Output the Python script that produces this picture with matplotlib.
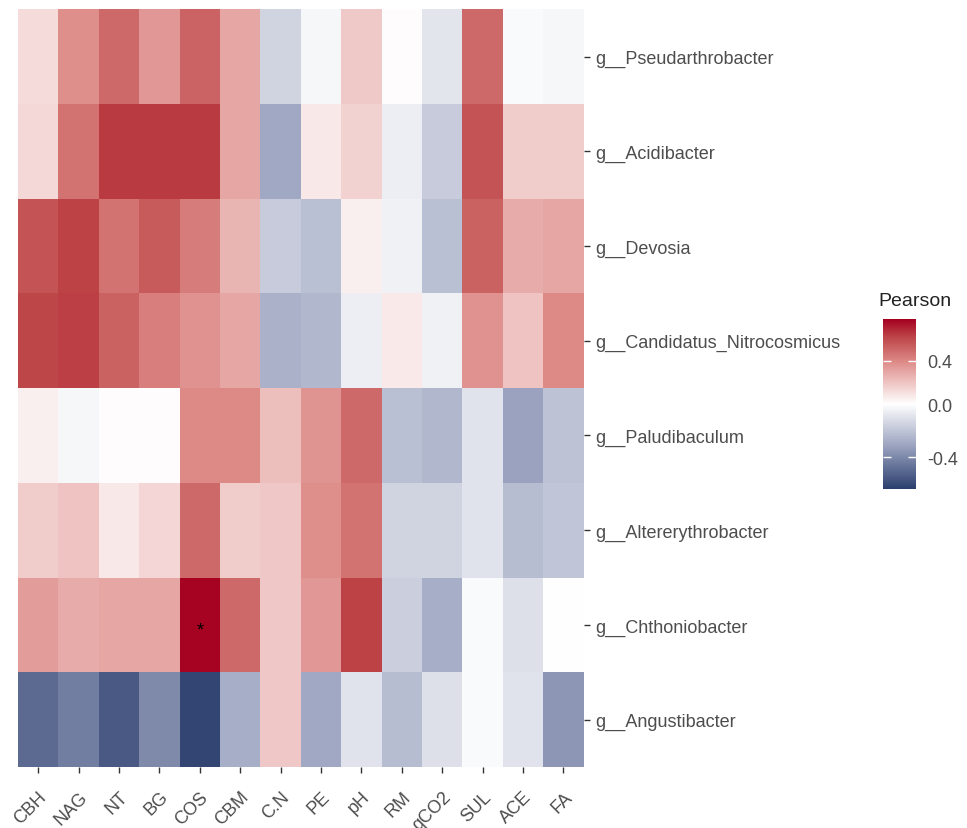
import numpy as np
import matplotlib.pyplot as plt
from matplotlib.colors import LinearSegmentedColormap, TwoSlopeNorm

plt.rcParams["font.family"] = ["Liberation Sans", "DejaVu Sans"]

# variables (columns) and genera (rows, top to bottom)
variables = ["CBH", "NAG", "NT", "BG", "COS", "CBM", "C.N", "PE", "pH", "RM",
             "qCO2", "SUL", "ACE", "FA"]
genera = ["g__Pseudarthrobacter", "g__Acidibacter", "g__Devosia",
          "g__Candidatus_Nitrocosmicus", "g__Paludibaculum",
          "g__Altererythrobacter", "g__Chthoniobacter", "g__Angustibacter"]

# Pearson correlations
pseudarthrobacter = [0.12, 0.38, 0.50, 0.35, 0.52, 0.30, -0.15, -0.03, 0.18, 0.01, -0.09, 0.50, -0.02, -0.03]
acidibacter = [0.13, 0.47, 0.65, 0.65, 0.65, 0.30, -0.30, 0.08, 0.15, -0.06, -0.18, 0.58, 0.17, 0.17]
devosia = [0.58, 0.63, 0.47, 0.55, 0.44, 0.25, -0.18, -0.22, 0.05, -0.05, -0.22, 0.53, 0.28, 0.30]
nitrocosmicus = [0.62, 0.64, 0.53, 0.43, 0.37, 0.30, -0.27, -0.25, -0.06, 0.07, -0.05, 0.37, 0.20, 0.39]
paludibaculum = [0.05, -0.03, 0.01, 0.01, 0.39, 0.39, 0.22, 0.36, 0.50, -0.22, -0.25, -0.10, -0.32, -0.21]
altererythrobacter = [0.17, 0.20, 0.08, 0.14, 0.50, 0.17, 0.19, 0.38, 0.47, -0.15, -0.15, -0.10, -0.23, -0.20]
chthoniobacter = [0.33, 0.28, 0.30, 0.30, 0.78, 0.50, 0.19, 0.35, 0.63, -0.17, -0.28, -0.02, -0.11, 0.00]
angustibacter = [-0.50, -0.44, -0.55, -0.40, -0.62, -0.28, 0.19, -0.30, -0.10, -0.23, -0.11, -0.02, -0.10, -0.36]

# significant cells: (row, column)
signif = [(6, 4)]

data = np.array([pseudarthrobacter, acidibacter, devosia, nitrocosmicus,
                 paludibaculum, altererythrobacter, chthoniobacter, angustibacter])

cmap = LinearSegmentedColormap.from_list(
    "pearson", [(0.0, "#2b3f6e"), (0.25, "#9aa2bf"), (0.5, "#ffffff"),
                (0.75, "#dd8a87"), (0.9, "#bc4346"), (1.0, "#a50021")])
norm = TwoSlopeNorm(vmin=-0.64, vcenter=0.0, vmax=0.79)

fig = plt.figure(figsize=(9.67, 8.29), dpi=100)
ax = fig.add_axes([0.0186, 0.0736, 0.585, 0.914])
ax.pcolormesh(data, cmap=cmap, norm=norm)
ax.set_xlim(0, len(variables))
ax.set_ylim(len(genera), 0)

for r, c in signif:
    ax.text(c + 0.5, r + 0.55, "*", ha="center", va="center", fontsize=13, color="black")

for s in ax.spines.values():
    s.set_visible(False)

label_col = "#4d4d4d"
ax.set_xticks(np.arange(len(variables)) + 0.5)
ax.set_xticklabels(variables, rotation=45, ha="right", rotation_mode="anchor",
                   fontsize=13, color=label_col)
ax.set_yticks(np.arange(len(genera)) + 0.5)
ax.set_yticklabels(genera, fontsize=13, color=label_col)
ax.yaxis.tick_right()
ax.tick_params(axis="both", length=4, width=1, color="#333333", pad=4)
ax.tick_params(axis="x", pad=11)

# colourbar
cax = fig.add_axes([883 / 967, 1 - 490 / 829, 33 / 967, 170 / 829])
sm = plt.cm.ScalarMappable(norm=norm, cmap=cmap)
cb = fig.colorbar(sm, cax=cax)
cb.outline.set_visible(False)
cb.set_ticks([-0.4, 0.0, 0.4])
cb.set_ticklabels(["-0.4", "0.0", "0.4"])
cax.tick_params(axis="y", direction="in", length=6, width=1, color="white",
                labelsize=13, labelcolor=label_col, left=True, right=True, pad=8)
fig.text(878 / 967, 1 - 302 / 829, "Pearson", fontsize=14, color="#222222",
         ha="left", va="center")

fig.savefig("out.png", dpi=100)
